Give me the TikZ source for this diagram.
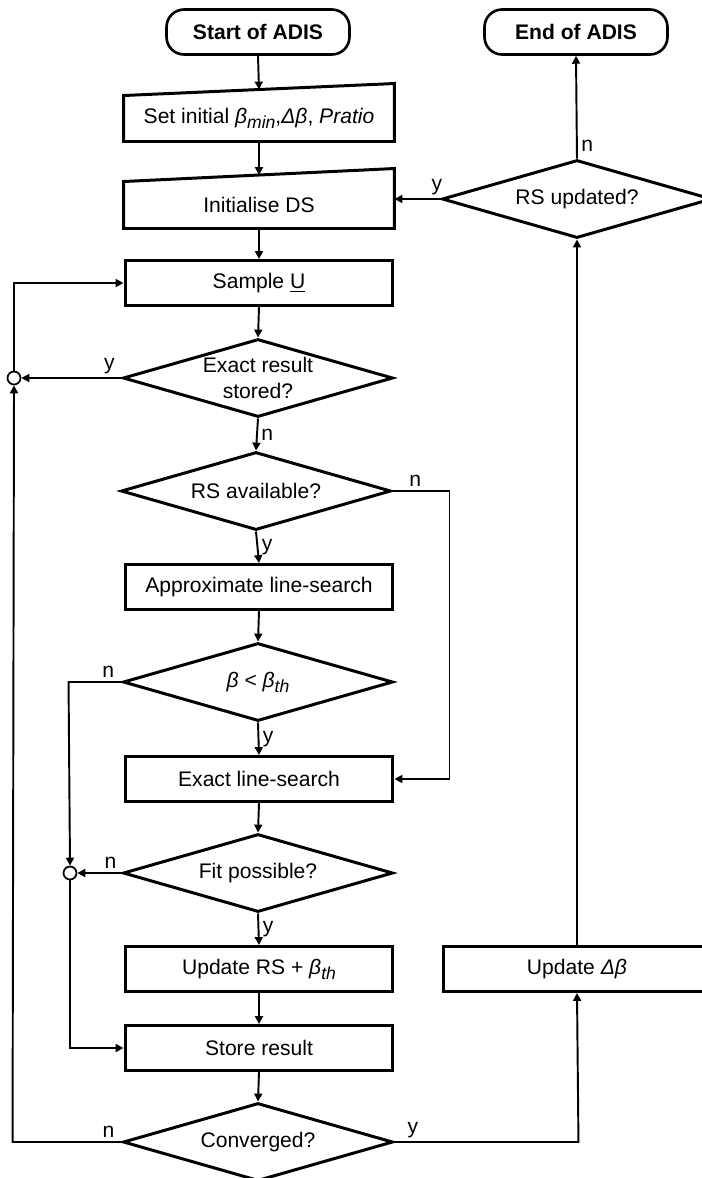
\documentclass[tikz,border=0pt]{standalone}
\usepackage{fontspec}
\setmainfont{Liberation Sans}
\usetikzlibrary{arrows.meta, shapes.geometric}
\tikzset{
  every picture/.style={font=\fontsize{12}{14.5}\selectfont, line width=1.1pt, x=0.02cm, y=-0.02cm},
  procbox/.style={draw, line width=1.7pt, minimum width=5.36cm, minimum height=0.9cm, inner sep=2pt, align=center},
  inbox/.style={procbox, draw=none},
  decision/.style={draw, diamond, line width=1.7pt, aspect=3.46, minimum width=5.4cm, minimum height=1.56cm, inner xsep=0pt, inner ysep=-4pt, align=center},
  terminal/.style={draw, line width=1.5pt, rounded corners=10pt, minimum width=3.66cm, minimum height=0.9cm, font=\fontsize{12}{14.5}\selectfont\bfseries},
  junction/.style={draw, circle, minimum size=0.26cm, inner sep=0pt, line width=1pt, fill=white},
  flow/.style={-{Triangle[length=4.5pt, width=4.5pt]}},
  yn/.style={inner sep=2pt},
}
\newcommand{\bet}{\textit{β}}
\newcommand{\sbs}[1]{\raisebox{-0.45ex}{\fontsize{10}{10}\selectfont\textit{#1}}}

\begin{document}
\begin{tikzpicture}
  \useasboundingbox (0,0) rectangle (702,1178);
  % main column
  \node[terminal] (start) at (258,32) {Start of ADIS};
  \node[inbox, minimum height=0.86cm] (setini) at (259,118.5) {Set initial \bet\sbs{min},\textit{Δβ}, \textit{Pratio}};
  \draw[line width=1.7pt] (setini.south west) -- (setini.north west) -- ([yshift=0.24cm]setini.north east) -- (setini.south east) -- cycle;
  \coordinate (setitop) at ([yshift=0.12cm]setini.north);
  \node[inbox, minimum height=0.88cm] (initds) at (259,205) {Initialise DS};
  \draw[line width=1.7pt] (initds.south west) -- (initds.north west) -- ([yshift=0.26cm]initds.north east) -- (initds.south east) -- cycle;
  \coordinate (initdstop) at ([yshift=0.13cm]initds.north);
  \node[procbox] (sample) at (259,283) {Sample \underline{U}};
  \node[decision] (exact) at (258,378) {Exact result\\stored?};
  \node[decision] (rsavail) at (256,491) {RS available?};
  \node[procbox] (approx) at (259,587) {Approximate line-search};
  \node[decision] (beta) at (258,682) {\bet\ < \bet\sbs{th}};
  \node[procbox] (exactls) at (259,779) {Exact line-search};
  \node[decision] (fit) at (258,873) {Fit possible?};
  \node[procbox] (updrs) at (259,969) {Update RS + \bet\sbs{th}};
  \node[procbox] (store) at (259,1048) {Store result};
  \node[decision] (conv) at (258,1142) {Converged?};
  % right column
  \node[terminal] (finish) at (576,32) {End of ADIS};
  \node[decision] (rsupd) at (577,199) {RS updated?};
  \node[procbox] (upddb) at (577,969) {Update \textit{Δβ}};
  % junctions
  \node[junction] (junA) at (14,378) {};
  \node[junction] (junB) at (70,873) {};

  \draw[flow] (start.south) -- (setitop);
  \draw[flow] (setini.south) -- (initdstop);
  \draw[flow] (initds.south) -- (sample.north);
  \draw[flow] (sample.south) -- (exact.north);
  \draw[flow] (exact.south) -- node[yn, right] {n} (rsavail.north);
  \draw[flow] (exact.west) -- node[yn, above, pos=0.12] {y} (junA.east);
  \draw[flow] (junA.north) |- (sample.west);
  \draw[flow] (conv.west) -- node[yn, above, pos=0.12] {n} ++(-109,0) -- (junA.south);
  \draw[flow] (rsavail.south) -- node[yn, right] {y} (approx.north);
  \draw[flow] (rsavail.east) -- node[yn, above, pos=0.4] {n} ++(57,0) |- (exactls.east);
  \draw[flow] (approx.south) -- (beta.north);
  \draw[flow] (beta.south) -- node[yn, right] {y} (exactls.north);
  \draw[flow] (beta.west) -- node[yn, above, pos=0.25] {n} ++(-53,0) -- (junB.north);
  \draw[flow] (exactls.south) -- (fit.north);
  \draw[flow] (fit.west) -- node[yn, above, pos=0.25] {n} (junB.east);
  \draw[flow] (junB.south) |- (store.west);
  \draw[flow] (fit.south) -- node[yn, right] {y} (updrs.north);
  \draw[flow] (updrs.south) -- (store.north);
  \draw[flow] (store.south) -- (conv.north);
  \draw[flow] (conv.east) -- node[yn, above, pos=0.1] {y} ++(184,0) -- (upddb.south);
  \draw[flow] (upddb.north) -- (rsupd.south);
  \draw[flow] (rsupd.west) -- node[yn, above, pos=0.08] {y} (rsupd.west -| initds.east);
  \draw[flow] (rsupd.north) -- node[yn, right, pos=0.12] {n} (finish.south);
\end{tikzpicture}
\end{document}
